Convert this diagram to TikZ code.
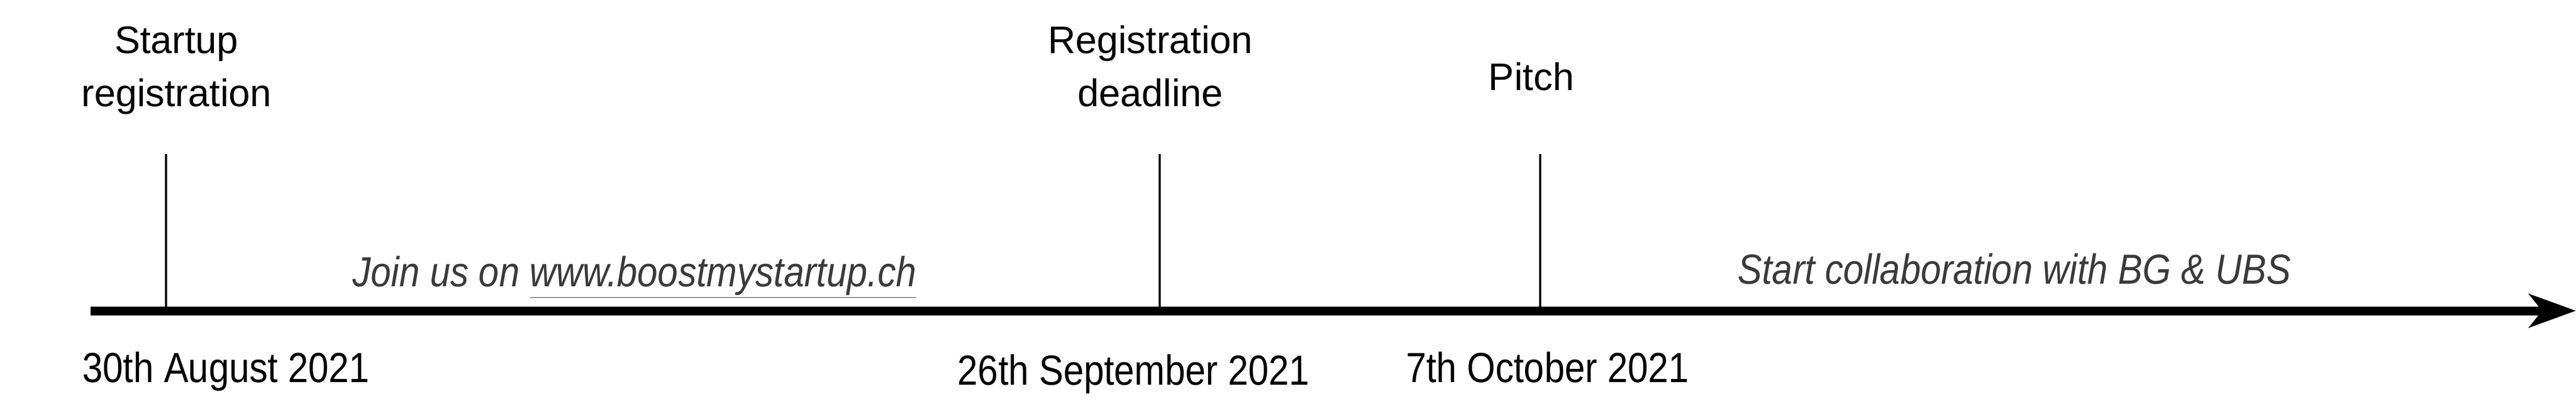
\documentclass[tikz,border=0pt]{standalone}
\usepackage{fontspec}
\setmainfont{Liberation Sans}
\newfontfamily\eventfont{Liberation Sans}
\newfontfamily\datefont{Liberation Sans}[FakeStretch=0.87]
\usetikzlibrary{arrows.meta}
\definecolor{notegray}{HTML}{3A3A3A}

\begin{document}
\begin{tikzpicture}[
  event/.style={align=center,anchor=base,inner sep=0pt,font=\eventfont\fontsize{21}{29.2}\selectfont},
  date/.style={anchor=base,inner sep=0pt,font=\datefont\fontsize{23}{27}\selectfont},
  note/.style={anchor=base,inner sep=0pt,text=notegray,font=\datefont\fontsize{23}{27}\selectfont\itshape},
  tick/.style={line width=0.9pt}]
  \useasboundingbox (0,0) rectangle (49.49,8.02);
  \coordinate (start) at (1.74,2.05);
  \coordinate (end) at (49.49,2.05);
  \coordinate (a1) at (3.19,2.05);
  \coordinate (a2) at (22.28,2.05);
  \coordinate (a3) at (29.59,2.05);
  \coordinate (h1) at (3.19,5.06);
  \coordinate (h2) at (22.28,5.06);
  \coordinate (h3) at (29.59,5.06);
  \node[event] (reg) at (3.39,5.97) {Startup\\registration};
  \node[event] (deadline) at (22.10,5.97) {Registration\\deadline};
  \node[event] (pitch) at (29.42,6.28) {Pitch};
  \node[date,anchor=base west] (d1) at (1.58,0.68) {30th August 2021};
  \node[date] (d2) at (21.78,0.63) {26th September 2021};
  \node[date] (d3) at (29.73,0.68) {7th October 2021};
  \node[note] (join) at (12.19,2.52) {Join us on \underline{www.boostmystartup.ch}};
  \node[note] (collab) at (38.70,2.57) {Start collaboration with BG \& UBS};
  \draw[line width=0.17cm,-{Stealth[length=0.9cm,width=0.64cm,inset=0.25cm]}] (start) -- (end);
  \draw[tick] (h1) -- (a1);
  \draw[tick] (h2) -- (a2);
  \draw[tick] (h3) -- (a3);
\end{tikzpicture}
\end{document}
